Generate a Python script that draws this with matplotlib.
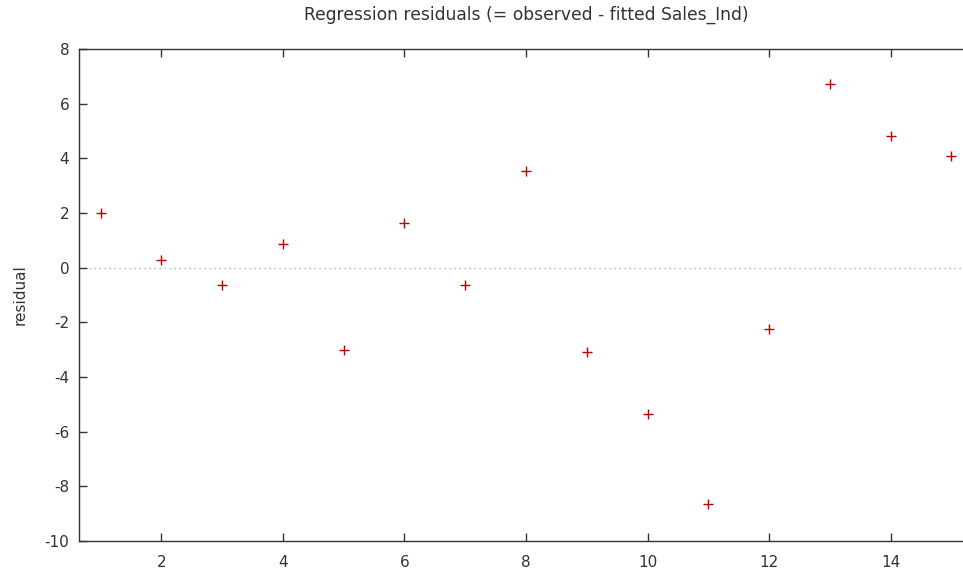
import matplotlib
matplotlib.use("Agg")
import matplotlib.pyplot as plt

plt.rcParams["axes.unicode_minus"] = False

obs = [1, 2, 3, 4, 5, 6, 7, 8, 9, 10, 11, 12, 13, 14, 15]
resid = [2.0, 0.28, -0.65, 0.87, -3.02, 1.63, -0.65, 3.52, -3.09, -5.36,
         -8.65, -2.24, 6.71, 4.80, 4.07]
yticks = [-10, -8, -6, -4, -2, 0, 2, 4, 6, 8]
xticks = [2, 4, 6, 8, 10, 12, 14]

W, H = 963, 570
fig = plt.figure(figsize=(W / 100, H / 100), dpi=100)
# plot area runs past the right edge of the picture, as in the original
left, right, top, bottom = 79, 973, 49, 541
ax = fig.add_axes([left / W, 1 - bottom / H, (right - left) / W, (bottom - top) / H])

ax.plot(obs, resid, linestyle="none", marker="+", color="#b80000",
        markersize=7, markeredgewidth=1.0, clip_on=False)
ax.axhline(0, color="#a0a0a0", linestyle=(0, (1, 3)), linewidth=0.9, zorder=0)

ax.set_xlim(0.643, 15.357)
ax.set_ylim(-10, 8)
ax.set_xticks(xticks)
ax.set_yticks(yticks)
ax.tick_params(direction="in", length=6, width=1, colors="#333333",
               labelsize=11, labelcolor="#333333", top=True, right=True)
ax.tick_params(axis="x", pad=10)
ax.tick_params(axis="y", pad=7)
for s in ax.spines.values():
    s.set_color("#333333")
    s.set_linewidth(1.0)

ax.set_ylabel("residual", fontsize=11, color="#333333", labelpad=12)
ax.set_title("Regression residuals (= observed - fitted Sales_Ind)",
             fontsize=12.3, color="#333333", pad=21)

fig.savefig("out.png", dpi=100)
